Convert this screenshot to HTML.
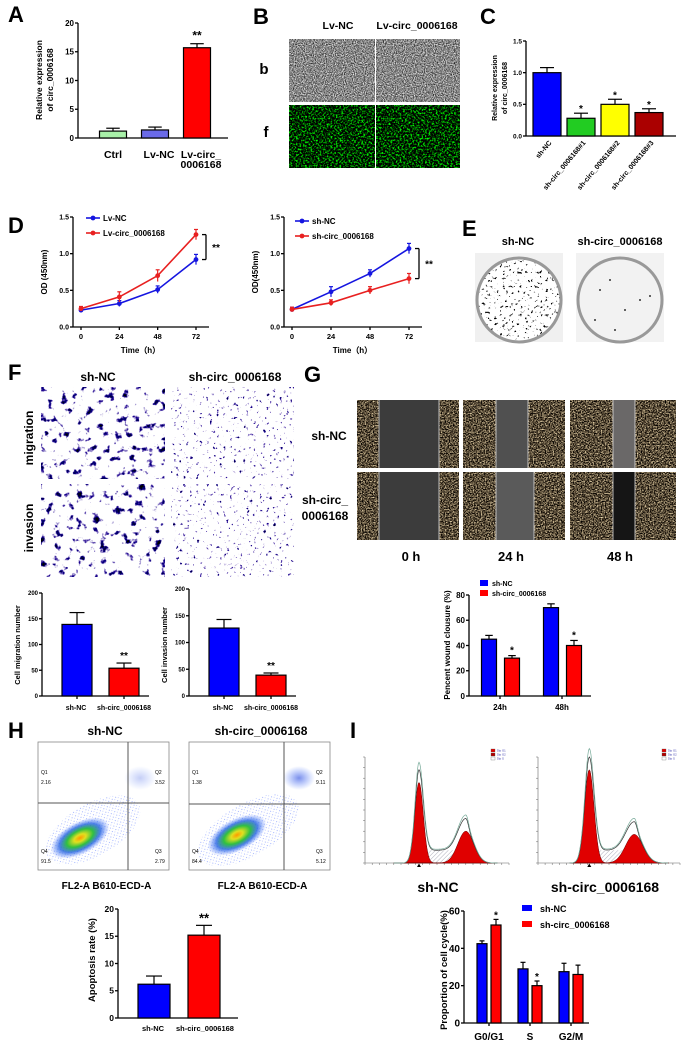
<!DOCTYPE html>
<html><head><meta charset="utf-8">
<style>
html,body{margin:0;padding:0;background:#fff;}
svg{display:block;font-family:"Liberation Sans",Arial,sans-serif;}
filter{color-interpolation-filters:sRGB;}
</style></head>
<body>
<svg id="fig" width="691" height="1047" viewBox="0 0 691 1047" xmlns="http://www.w3.org/2000/svg">
<defs>
<filter id="fGray" x="0" y="0" width="100%" height="100%" color-interpolation-filters="sRGB"><feTurbulence type="fractalNoise" baseFrequency="0.9" numOctaves="2" seed="3"/><feColorMatrix type="matrix" values="1.5 0 0 0 -0.22  1.5 0 0 0 -0.22  1.5 0 0 0 -0.22  0 0 0 0 1"/></filter>
<filter id="fGreen" x="0" y="0" width="100%" height="100%" color-interpolation-filters="sRGB"><feTurbulence type="fractalNoise" baseFrequency="0.55" numOctaves="2" seed="7"/><feColorMatrix type="matrix" values="0 0 0 0 0  3.5 0 0 0 -1.6  0 0 0 0 0  0 0 0 0 1"/></filter>
<filter id="fPurple" x="0" y="0" width="100%" height="100%" color-interpolation-filters="sRGB"><feTurbulence type="fractalNoise" baseFrequency="0.13" numOctaves="3" seed="5"/><feColorMatrix type="matrix" values="-8 0 0 0 5.8  -9 0 0 0 6.4  -4 0 0 0 3.4  0 0 0 0 1"/></filter>
<filter id="fPurple2" x="0" y="0" width="100%" height="100%" color-interpolation-filters="sRGB"><feTurbulence type="fractalNoise" baseFrequency="0.3" numOctaves="2" seed="9"/><feColorMatrix type="matrix" values="-8 0 0 0 6.3  -9 0 0 0 6.95  -4 0 0 0 3.65  0 0 0 0 1"/></filter>
<filter id="fCells" x="0" y="0" width="100%" height="100%" color-interpolation-filters="sRGB"><feTurbulence type="fractalNoise" baseFrequency="0.75" numOctaves="2" seed="11"/><feColorMatrix type="matrix" values="2.0 0 0 0 -0.65  1.9 0 0 0 -0.65  1.6 0 0 0 -0.58  0 0 0 0 1"/></filter>
<filter id="fDots" x="0" y="0" width="100%" height="100%" color-interpolation-filters="sRGB"><feTurbulence type="fractalNoise" baseFrequency="0.35" numOctaves="2" seed="2"/><feColorMatrix type="matrix" values="-12 0 0 0 8.8  -12 0 0 0 8.8  -12 0 0 0 8.8  0 0 0 0 1"/></filter>
<radialGradient id="gDens"><stop offset="0" stop-color="#ff9900"/><stop offset="0.2" stop-color="#e0e020"/><stop offset="0.45" stop-color="#30c040"/><stop offset="0.7" stop-color="#2060e0" stop-opacity="0.8"/><stop offset="1" stop-color="#4070ff" stop-opacity="0"/></radialGradient>
<radialGradient id="gDens2"><stop offset="0" stop-color="#3050e0" stop-opacity="0.8"/><stop offset="1" stop-color="#4070ff" stop-opacity="0"/></radialGradient>
<pattern id="pHatch" width="3" height="3" patternUnits="userSpaceOnUse" patternTransform="rotate(45)"><line x1="0" y1="0" x2="0" y2="3" stroke="#99a" stroke-width="0.8"/></pattern>
<pattern id="pSpread" width="4" height="4" patternUnits="userSpaceOnUse"><circle cx="1" cy="1" r="0.5" fill="#5070ff"/><circle cx="3" cy="2.6" r="0.4" fill="#5070ff"/></pattern>
</defs>
<g id="root"></g>
</svg>
<script>
// ---------- data ----------
const A_cats = ['Ctrl', 'Lv-NC', 'Lv-circ_'];
const A_vals = [1.2, 1.4, 15.7];
const A_errs = [0.5, 0.5, 0.7];
const A_ticks = [0, 5, 10, 15, 20];

const C_cats = ['sh-NC', 'sh-circ_0006168#1', 'sh-circ_0006168#2', 'sh-circ_0006168#3'];
const C_vals = [1.0, 0.28, 0.5, 0.37];
const C_errs = [0.08, 0.08, 0.08, 0.06];
const C_ticks = [0.0, 0.5, 1.0, 1.5];

const D_time = [0, 24, 48, 72];
const D1_nc = [0.23, 0.32, 0.51, 0.92];
const D1_nc_err = [0.03, 0.04, 0.05, 0.07];
const D1_circ = [0.25, 0.41, 0.70, 1.26];
const D1_circ_err = [0.03, 0.07, 0.08, 0.07];
const D2_nc = [0.24, 0.48, 0.73, 1.07];
const D2_nc_err = [0.03, 0.07, 0.05, 0.07];
const D2_circ = [0.24, 0.33, 0.50, 0.66];
const D2_circ_err = [0.03, 0.04, 0.05, 0.07];
const D_ticks = [0.0, 0.5, 1.0, 1.5];

const F_groups = ['sh-NC', 'sh-circ_0006168'];
const F_mig = [139, 54];
const F_mig_err = [23, 10];
const F_inv = [127, 39];
const F_inv_err = [16, 4];
const F_ticks = [0, 50, 100, 150, 200];

const G_times = ['24h', '48h'];
const G_nc = [45, 70];
const G_nc_err = [3, 3];
const G_circ = [30, 40];
const G_circ_err = [2, 4];
const G_ticks = [0, 20, 40, 60, 80];

const H_vals = [6.2, 15.2];
const H_errs = [1.5, 1.8];
const H_ticks = [0, 5, 10, 15, 20];

const I_phases = ['G0/G1', 'S', 'G2/M'];
const I_nc = [42.5, 29, 27.5];
const I_nc_err = [1.5, 3.5, 4.5];
const I_circ = [52.5, 20, 26];
const I_circ_err = [3, 2.5, 5];
const I_ticks = [0, 20, 40, 60];

// ---------- helpers ----------
const NS = 'http://www.w3.org/2000/svg';
const root = document.getElementById('root');
function mk(tag, attrs, parent) {
  const e = document.createElementNS(NS, tag);
  for (const k in attrs) e.setAttribute(k, attrs[k]);
  (parent || root).appendChild(e);
  return e;
}
function txt(x, y, s, fs, name, opt) {
  opt = opt || {};
  const t = mk('text', {x: x, y: y, 'font-size': fs, 'text-anchor': opt.anchor || 'middle', 'font-weight': opt.weight || 'bold', fill: opt.fill || '#000'});
  if (opt.rot !== undefined) t.setAttribute('transform', 'rotate(' + opt.rot + ' ' + x + ' ' + y + ')');
  t.textContent = s;
  
  
  return t;
}
function line(x1, y1, x2, y2, name, sw, col) {
  const l = mk('line', {x1: x1, y1: y1, x2: x2, y2: y2, stroke: col || '#000', 'stroke-width': sw || 1.3});
  
  
  return l;
}
function yAxis(x, y0, y1, ticks, fs, prefix, dec) {
  const vmax = ticks[ticks.length - 1];
  const sy = v => y0 - (v / vmax) * (y0 - y1);
  line(x, y0, x, y1, prefix + '-y-axis');
  ticks.forEach(t => {
    line(x - 3, sy(t), x, sy(t), prefix + '-y-tick');
    txt(x - 4, sy(t) + fs * 0.35, dec ? t.toFixed(dec) : String(t), fs, prefix + '-y-tick-label', {anchor: 'end'});
  });
  return sy;
}
function bar(cx, w, v, err, color, sy, name) {
  const y = sy(v), y0 = sy(0);
  const r = mk('rect', {x: cx - w / 2, y: y, width: w, height: y0 - y, fill: color, stroke: '#000', 'stroke-width': 1.2});
  
  
  const ye = sy(v + err);
  line(cx, y, cx, ye, name + '-error-bar', 1.2);
  line(cx - w * 0.25, ye, cx + w * 0.25, ye, name + '-error-cap', 1.2);
  return ye;
}
function panelLabel(x, y, s) {
  txt(x, y, s, 22, 'panel-label-' + s.toLowerCase(), {anchor: 'start'});
}
function rectImg(x, y, w, h, fill, name, filt) {
  const r = mk('rect', {x: x, y: y, width: w, height: h, fill: fill});
  if (filt) r.setAttribute('filter', 'url(#' + filt + ')');
  
  
  return r;
}

// ---------- Panel A ----------
panelLabel(8, 22, 'A');
(function () {
  const sy = yAxis(78, 138, 23, A_ticks, 8, 'a');
  line(78, 138, 228, 138, 'a-x-axis');
  const cols = ['#a8f0a8', '#6a6ae8', '#ff0000'];
  A_vals.forEach((v, i) => {
    const cx = 113 + i * 42;
    bar(cx, 27, v, A_errs[i], cols[i], sy, 'a-bar-' + i);
    txt(cx + (i === 0 ? 0 : 4), 158, A_cats[i], 10.5, 'a-x-label');
  });
  txt(201, 168, '0006168', 10.5, 'a-x-label');
  txt(197, sy(A_vals[2] + A_errs[2]) - 4, '**', 12, 'a-significance');
  txt(42, 80, 'Relative expression', 8.5, 'a-y-title', {rot: -90});
  txt(53, 80, 'of circ_0006168', 8.5, 'a-y-title', {rot: -90});
})();

// ---------- Panel B ----------
panelLabel(253, 24, 'B');
txt(338, 29, 'Lv-NC', 10.5, 'b-header-lv-nc');
txt(417, 29, 'Lv-circ_0006168', 10.5, 'b-header-lv-circ');
txt(264, 74, 'b', 15, 'b-row-label-bright');
txt(266, 137, 'f', 15, 'b-row-label-fluor');
rectImg(289, 39, 86, 63, '#888', 'b-brightfield-lv-nc', 'fGray');
rectImg(376, 39, 84, 63, '#999', 'b-brightfield-lv-circ', 'fGray');
rectImg(289, 105, 86, 63, '#080', 'b-fluorescence-lv-nc', 'fGreen');
rectImg(376, 105, 84, 63, '#080', 'b-fluorescence-lv-circ', 'fGreen');

// ---------- Panel C ----------
panelLabel(480, 24, 'C');
(function () {
  const sy = yAxis(526, 136, 41, C_ticks, 6.5, 'c', 1);
  line(526, 136, 676, 136, 'c-x-axis');
  const cols = ['#0000ff', '#22cc22', '#ffff00', '#aa0000'];
  C_vals.forEach((v, i) => {
    const cx = 547 + i * 34;
    const top = bar(cx, 28, v, C_errs[i], cols[i], sy, 'c-bar-' + i);
    if (i > 0) txt(cx, top - 1, '*', 10, 'c-significance');
    txt(cx + 5, 143, C_cats[i], 7, 'c-x-label', {anchor: 'end', rot: -50});
  });
  txt(497, 88, 'Relative expression', 7, 'c-y-title', {rot: -90});
  txt(507, 88, 'of circ_0006168', 7, 'c-y-title', {rot: -90});
})();

// ---------- Panel D ----------
panelLabel(8, 233, 'D');
function lineChart(ax, x0x, x72, xEnd, s1, e1, s2, e2, names, legY, legX, prefix) {
  const sy = yAxis(ax, 327, 217, D_ticks, 7, prefix, 1);
  line(ax, 327, xEnd, 327, prefix + '-x-axis');
  const sx = t => x0x + (t / 72) * (x72 - x0x);
  D_time.forEach(t => {
    line(sx(t), 327, sx(t), 330, prefix + '-x-tick');
    txt(sx(t), 339, String(t), 7.5, prefix + '-x-tick-label');
  });
  txt((x0x + x72) / 2 + 2, 353, 'Time（h）', 8, prefix + '-x-title');
  const series = [[s1, e1, '#1515e0'], [s2, e2, '#e82020']];
  series.forEach((s, k) => {
    const pts = D_time.map((t, i) => sx(t) + ',' + sy(s[0][i])).join(' ');
    const p = mk('polyline', {points: pts, fill: 'none', stroke: s[2], 'stroke-width': 1.6});
    
    
    D_time.forEach((t, i) => {
      const x = sx(t), y = sy(s[0][i]);
      line(x, sy(s[0][i] - s[1][i]), x, sy(s[0][i] + s[1][i]), prefix + '-err', 1.2, s[2]);
      line(x - 2, sy(s[0][i] + s[1][i]), x + 2, sy(s[0][i] + s[1][i]), prefix + '-err-cap', 1.2, s[2]);
      const c = mk('circle', {cx: x, cy: y, r: 2.4, fill: s[2]});
      
      
    });
    line(legX, legY + k * 15, legX + 14, legY + k * 15, prefix + '-legend-line', 1.6, s[2]);
    const c = mk('circle', {cx: legX + 7, cy: legY + k * 15, r: 2.4, fill: s[2]});
    
    
    txt(legX + 17, legY + 3 + k * 15, names[k], 8, prefix + '-legend-label', {anchor: 'start'});
  });
  const ya = sy(Math.max(s1[3], s2[3])), yb = sy(Math.min(s1[3], s2[3]));
  const bx = x72 + 10;
  line(bx - 4, ya, bx, ya, prefix + '-bracket');
  line(bx, ya, bx, yb, prefix + '-bracket');
  line(bx - 4, yb, bx, yb, prefix + '-bracket');
  txt(bx + 10, (ya + yb) / 2 + 4, '**', 10, prefix + '-significance');
  txt(ax - 26, 272, prefix === 'd1' ? 'OD (450nm)' : 'OD(450nm)', 8, prefix + '-y-title', {rot: -90});
}
lineChart(73, 81, 196, 209, D1_nc, D1_nc_err, D1_circ, D1_circ_err, ['Lv-NC', 'Lv-circ_0006168'], 218, 86, 'd1');
lineChart(284, 292, 409, 422, D2_nc, D2_nc_err, D2_circ, D2_circ_err, ['sh-NC', 'sh-circ_0006168'], 221, 295, 'd2');

// ---------- Panel E ----------
panelLabel(462, 236, 'E');
txt(518, 245, 'sh-NC', 11, 'e-header-sh-nc');
txt(620, 245, 'sh-circ_0006168', 11, 'e-header-sh-circ');
rectImg(475, 253, 88, 89, '#f0f0f0', 'e-plate-bg-nc');
rectImg(576, 253, 88, 89, '#f2f2f2', 'e-plate-bg-circ');
[[519, 'nc', 'fDots'], [620, 'circ', null]].forEach(p => {
  const clip = mk('clipPath', {id: 'clip' + p[1]});
  mk('circle', {cx: p[0], cy: 300, r: 42}, clip);
  if (p[2]) {
    const r = rectImg(p[0] - 44, 256, 88, 88, '#fff', 'e-colonies-' + p[1], p[2]);
    r.setAttribute('clip-path', 'url(#clip' + p[1] + ')');
  }
  const c = mk('circle', {cx: p[0], cy: 300, r: 42, fill: 'none', stroke: '#999', 'stroke-width': 3});
  
  
});
[[600,290],[610,280],[625,310],[640,300],[595,320],[650,296],[615,330]].forEach(d => {
  const c = mk('circle', {cx: d[0], cy: d[1], r: 1, fill: '#333'});
  
  
});

// ---------- Panel F ----------
panelLabel(8, 380, 'F');
txt(98, 381, 'sh-NC', 12, 'f-header-sh-nc');
txt(235, 381, 'sh-circ_0006168', 12, 'f-header-sh-circ');
txt(33, 438, 'migration', 12, 'f-row-label-migration', {rot: -90});
txt(33, 528, 'invasion', 12, 'f-row-label-invasion', {rot: -90});
rectImg(41, 387, 124, 92, '#ddd', 'f-migration-sh-nc', 'fPurple');
rectImg(171, 387, 123, 92, '#eee', 'f-migration-sh-circ', 'fPurple2');
rectImg(41, 484, 124, 93, '#ddd', 'f-invasion-sh-nc', 'fPurple');
rectImg(171, 484, 123, 93, '#eee', 'f-invasion-sh-circ', 'fPurple2');
function fBars(ax, vals, errs, prefix, title, tx) {
  const sy = yAxis(ax, 696, ax > 100 ? 589 : 593, F_ticks, 6, prefix);
  line(ax, 696, ax + 107, 696, prefix + '-x-axis');
  const cols = ['#0000ff', '#ff0000'];
  vals.forEach((v, i) => {
    const cx = ax + 35 + i * 47;
    const top = bar(cx, 30, v, errs[i], cols[i], sy, prefix + '-bar-' + i);
    line(cx, 696, cx, 699, prefix + '-x-tick');
    if (i === 1) txt(cx, top - 4, '**', 10, prefix + '-significance');
  });
  txt(ax + 34, 710, F_groups[0], 7, prefix + '-x-label');
  txt(ax + 82, 710, F_groups[1], 7, prefix + '-x-label');
  txt(tx, 645, title, 7.5, prefix + '-y-title', {rot: -90});
}
fBars(42, F_mig, F_mig_err, 'f1', 'Cell  migration number', 20);
fBars(189, F_inv, F_inv_err, 'f2', 'Cell  invasion number', 167);

// ---------- Panel G ----------
panelLabel(304, 382, 'G');
txt(329, 440, 'sh-NC', 12, 'g-row-label-sh-nc');
txt(325, 504, 'sh-circ_', 12, 'g-row-label-sh-circ');
txt(325, 520, '0006168', 12, 'g-row-label-sh-circ');
[[357, 'g-0h'], [463, 'g-24h'], [570, 'g-48h']].forEach((c, ci) => {
  [400, 472].forEach((y, ri) => {
    const w = ci === 2 ? 106 : 102;
    rectImg(c[0], y, w, 68, '#555', c[1] + '-image-' + ri, 'fCells');
    let gx, gw, gc;
    if (ci === 0) { gx = c[0] + 22; gw = 60; gc = '#3c3c3c'; }
    else if (ci === 1) { gx = c[0] + 33; gw = ri ? 38 : 32; gc = ri ? '#5a5a5a' : '#505050'; }
    else { gx = c[0] + 43; gw = 22; gc = ri ? '#151515' : '#6a6868'; }
    rectImg(gx, y, gw, 68, gc, c[1] + '-scratch-' + ri);
    line(gx, y, gx, y + 68, c[1] + '-divider', 0.8, '#ddd');
    line(gx + gw, y, gx + gw, y + 68, c[1] + '-divider', 0.8, '#ddd');
  });
});
txt(411, 561, '0 h', 13, 'g-time-label-0h');
txt(511, 561, '24 h', 13, 'g-time-label-24h');
txt(620, 561, '48 h', 13, 'g-time-label-48h');
(function () {
  const sy = yAxis(469, 696, 595, G_ticks, 8, 'g');
  line(469, 696, 591, 696, 'g-x-axis');
  G_times.forEach((t, i) => {
    const base = 500 + i * 62;
    bar(base - 11, 15, G_nc[i], G_nc_err[i], '#0000ff', sy, 'g-bar-sh-nc-' + t);
    const t2 = bar(base + 12, 15, G_circ[i], G_circ_err[i], '#ff0000', sy, 'g-bar-sh-circ-' + t);
    txt(base + 12, t2 - 2, '*', 10, 'g-significance');
    line(base, 696, base, 699, 'g-x-tick');
    txt(base, 710, t, 8, 'g-x-label');
  });
  rectImg(480, 580, 8, 6, '#0000ff', 'g-legend-swatch-nc');
  rectImg(480, 590, 8, 6, '#ff0000', 'g-legend-swatch-circ');
  txt(492, 586, 'sh-NC', 7, 'g-legend-label', {anchor: 'start'});
  txt(492, 596, 'sh-circ_0006168', 7, 'g-legend-label', {anchor: 'start'});
  txt(450, 645, 'Pencent wound clousure (%)', 8, 'g-y-title', {rot: -90});
})();

// ---------- Panel H ----------
panelLabel(8, 738, 'H');
txt(105, 735, 'sh-NC', 12, 'h-header-sh-nc');
txt(261, 735, 'sh-circ_0006168', 12, 'h-header-sh-circ');
[[38, 131, 128, 803, 'nc', ['2.16', '3.52', '2.79', '91.5'], 40, 0, 0.35], [189, 141, 284, 804, 'circ', ['1.38', '9.11', '5.12', '84.4'], 40, 6, 0.8]].forEach(p => {
  const x = p[0], w = p[1];
  rectImg(x, 742, w, 128, '#fff', 'h-plot-bg-' + p[4]);
  const sp = mk('ellipse', {cx: x + w * 0.42, cy: 830, rx: w * 0.4, ry: 26, fill: 'url(#pSpread)', opacity: 0.7, transform: 'rotate(-30 ' + (x + w * 0.42) + ' 830)'});
  
  
  const q2 = mk('ellipse', {cx: x + w * 0.78, cy: 778, rx: 16, ry: 12, fill: 'url(#gDens2)', opacity: p[8]});
  
  
  const d = mk('ellipse', {cx: x + 42 + p[7], cy: 838 - p[7] / 2, rx: 32, ry: 16, fill: 'url(#gDens)', transform: 'rotate(-28 ' + (x + 42 + p[7]) + ' ' + (838 - p[7] / 2) + ')'});
  
  
  const b = mk('rect', {x: x, y: 742, width: w, height: 128, fill: 'none', stroke: '#888', 'stroke-width': 0.8});
  
  
  line(p[2], 742, p[2], 870, 'h-gate-vertical', 1, '#555');
  line(x, p[3], x + w, p[3], 'h-gate-horizontal', 1, '#555');
  txt(x + 3, 774, 'Q1', 5, 'h-quadrant-label', {anchor: 'start', weight: 'normal'});
  txt(x + 3, 784, p[5][0], 5, 'h-quadrant-value', {anchor: 'start', weight: 'normal'});
  txt(x + w - 14, 774, 'Q2', 5, 'h-quadrant-label', {anchor: 'start', weight: 'normal'});
  txt(x + w - 14, 784, p[5][1], 5, 'h-quadrant-value', {anchor: 'start', weight: 'normal'});
  txt(x + w - 14, 853, 'Q3', 5, 'h-quadrant-label', {anchor: 'start', weight: 'normal'});
  txt(x + w - 14, 863, p[5][2], 5, 'h-quadrant-value', {anchor: 'start', weight: 'normal'});
  txt(x + 3, 853, 'Q4', 5, 'h-quadrant-label', {anchor: 'start', weight: 'normal'});
  txt(x + 3, 863, p[5][3], 5, 'h-quadrant-value', {anchor: 'start', weight: 'normal'});
  txt(x + w / 2 + 3, 889, 'FL2-A B610-ECD-A', 10, 'h-x-title');
});
(function () {
  const sy = yAxis(118, 1018, 909, H_ticks, 8.5, 'h');
  line(118, 1018, 238, 1018, 'h-x-axis');
  const cols = ['#0000ff', '#ff0000'];
  H_vals.forEach((v, i) => {
    const cx = 154 + i * 50;
    const top = bar(cx, 32, v, H_errs[i], cols[i], sy, 'h-bar-' + i);
    if (i === 1) txt(cx, top - 3, '**', 13, 'h-significance');
  });
  txt(153, 1031, 'sh-NC', 7.5, 'h-x-label');
  txt(205, 1031, 'sh-circ_0006168', 7.5, 'h-x-label');
  txt(95, 960, 'Apoptosis rate (%)', 9.5, 'h-y-title', {rot: -90});
})();

// ---------- Panel I ----------
panelLabel(350, 738, 'I');
// histogram peak parameters [G1 position, G1 height, G2 position, G2 height, S level]
const I_hist_nc = [75, 0.76, 140, 0.30, 0.12];
const I_hist_circ = [65, 0.88, 122, 0.27, 0.12];
function histo(x0, w, yb, yt, hp, xmax, prefix) {
  const sx = v => x0 + (v / xmax) * w;
  const sy = f => yb - f * (yb - yt);
  line(x0, yb, x0, yt, prefix + '-y-axis', 0.6, '#666');
  line(x0, yb, x0 + w, yb, prefix + '-x-axis', 0.6, '#666');
  for (let i = 0; i <= 10; i++) line(x0 - 2, sy(i / 10), x0, sy(i / 10), prefix + '-y-tick', 0.5, '#666');
  for (let i = 0; i <= 20; i++) line(x0 + i * w / 20, yb, x0 + i * w / 20, yb + 2, prefix + '-x-tick', 0.5, '#666');
  const g = (v, m, s, h) => h * Math.exp(-((v - m) * (v - m)) / (2 * s * s));
  const sLevel = v => (v > hp[0] && v < hp[2]) ? hp[4] : hp[4] * Math.exp(-Math.pow(Math.min(Math.abs(v - hp[0]), Math.abs(v - hp[2])) / 5, 2));
  let s1 = '', s2 = '', tot = '', tot2 = '', sf = '';
  for (let v = 40; v <= xmax * 0.92; v += 1) {
    const a = g(v, hp[0], 6, hp[1]), b = g(v, hp[2], 11, hp[3]), s = sLevel(v) * (v > hp[0] - 8 && v < hp[2] + 15 ? 1 : 0);
    s1 += (s1 ? 'L' : 'M') + sx(v) + ',' + sy(a);
    s2 += (s2 ? 'L' : 'M') + sx(v) + ',' + sy(b);
    tot += (tot ? 'L' : 'M') + sx(v) + ',' + sy(a + b + s);
    tot2 += (tot2 ? 'L' : 'M') + sx(v) + ',' + sy((a + b + s) * 1.08);
    sf += (sf ? 'L' : 'M') + sx(v) + ',' + sy(Math.max(a, b, s));
  }
  const close = 'L' + sx(xmax * 0.92) + ',' + yb + 'L' + sx(40) + ',' + yb + 'Z';
  const h = mk('path', {d: sf + close, fill: 'url(#pHatch)', stroke: 'none'});
  
  
  const p1 = mk('path', {d: s1 + close, fill: '#e00000', stroke: '#600', 'stroke-width': 0.5});
  
  
  const p2 = mk('path', {d: s2 + close, fill: '#e00000', stroke: '#600', 'stroke-width': 0.5});
  
  
  const t = mk('path', {d: tot, fill: 'none', stroke: '#333', 'stroke-width': 0.7});
  
  
  const t2 = mk('path', {d: tot2, fill: 'none', stroke: '#7a9', 'stroke-width': 0.7});
  
  
  const tri = mk('polygon', {points: (sx(hp[0]) - 2) + ',' + (yb + 4) + ' ' + (sx(hp[0]) + 2) + ',' + (yb + 4) + ' ' + sx(hp[0]) + ',' + (yb + 0.5), fill: '#000'});
  
  
  [['#e00000', 'Dip G1'], ['#b00000', 'Dip G2'], ['#fff', 'Dip S']].forEach((l, i) => {
    const r = mk('rect', {x: x0 + w - 18, y: yt - 8 + i * 4, width: 4, height: 3, fill: l[0], stroke: '#555', 'stroke-width': 0.3});
    
    
    txt(x0 + w - 12, yt - 5.5 + i * 4, l[1], 2.8, prefix + '-legend-label', {anchor: 'start', weight: 'normal', fill: '#33a'});
  });
}
histo(365, 144, 863, 757, I_hist_nc, 200, 'i-hist-nc');
histo(538, 142, 863, 757, I_hist_circ, 180, 'i-hist-circ');
txt(438, 892, 'sh-NC', 14, 'i-hist-label-nc');
txt(605, 892, 'sh-circ_0006168', 14, 'i-hist-label-circ');
(function () {
  const sy = yAxis(464, 1023, 911, I_ticks, 10, 'i');
  line(464, 1023, 589, 1023, 'i-x-axis');
  I_phases.forEach((ph, i) => {
    const c = 489 + i * 41;
    bar(c - 7, 10, I_nc[i], I_nc_err[i], '#0000ff', sy, 'i-bar-sh-nc-' + ph);
    const top = bar(c + 7, 10, I_circ[i], I_circ_err[i], '#ff0000', sy, 'i-bar-sh-circ-' + ph);
    if (i < 2) txt(c + 7, top - 1, '*', 10, 'i-significance');
    line(c, 1023, c, 1026, 'i-x-tick');
    txt(c, 1040, ph, 10, 'i-x-label');
  });
  rectImg(522, 905, 10, 6, '#0000ff', 'i-legend-swatch-nc');
  rectImg(522, 921, 10, 6, '#ff0000', 'i-legend-swatch-circ');
  txt(540, 912, 'sh-NC', 9, 'i-legend-label', {anchor: 'start'});
  txt(540, 928, 'sh-circ_0006168', 9, 'i-legend-label', {anchor: 'start'});
  txt(447, 970, 'Proportion of cell cycle(%)', 9.5, 'i-y-title', {rot: -90});
})();
</script>
</body></html>
